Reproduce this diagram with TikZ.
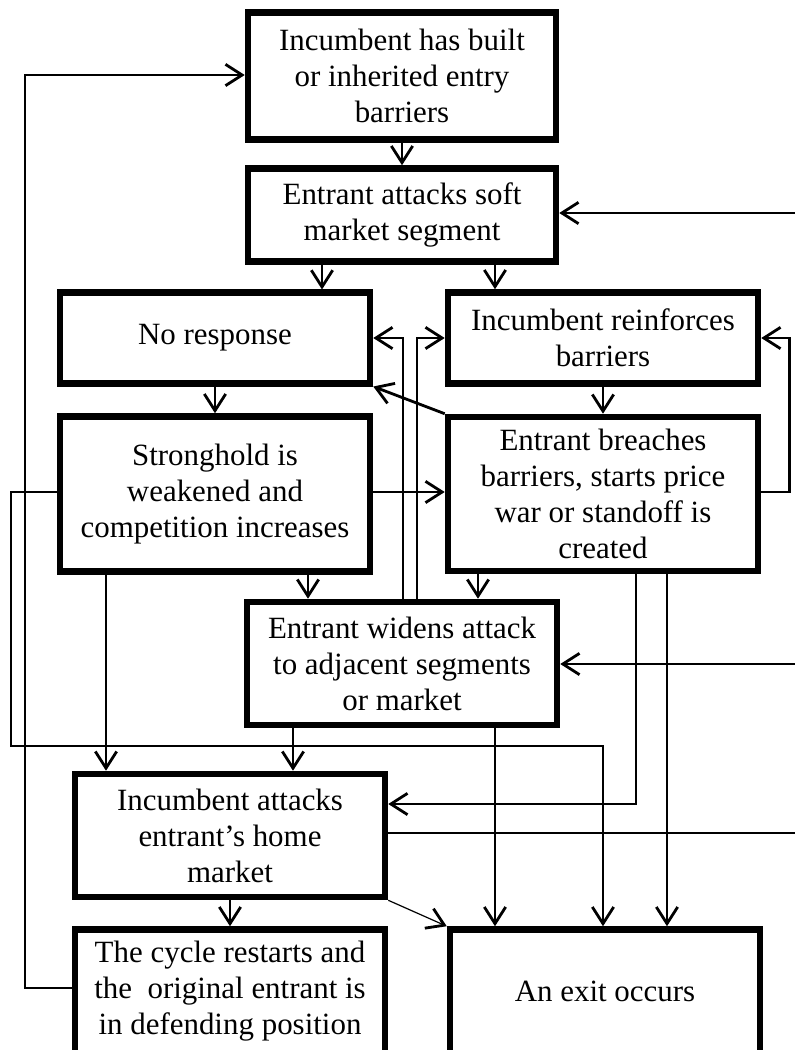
\documentclass[tikz,border=0pt]{standalone}
\usepackage{fontspec}
\setmainfont{Liberation Serif}
\usetikzlibrary{arrows.meta}
\tikzset{
  box/.style={draw, line width=4.9pt, rectangle, align=center, inner sep=0pt,
              font=\fontsize{23.2}{27}\selectfont},
  wh/.style 2 args={minimum width=#1*0.75pt, minimum height=#2*0.75pt},
  tip/.style={-{Straight Barb[length=12.5pt,width=16pt]}},
  arr/.style={line width=2.1pt, tip},
  thinarr/.style={line width=0.9pt, -{Straight Barb[length=12.5pt,width=16pt,line width=2.1pt]}},
  link/.style={line width=2.1pt}
}
\begin{document}
\begin{tikzpicture}[x=0.75pt,y=-0.75pt]
\useasboundingbox (0,0) rectangle (795,1050);
\fill[white] (0,0) rectangle (795,1050);
\clip (0,0) rectangle (795,1050);

% boxes
\node[box, wh={308}{126.5}] (n1) at (402,76) {Incumbent has built\\or inherited entry\\barriers};
\node[box, wh={308}{93}] (n2) at (402,215) {Entrant attacks soft\\market segment};
\node[box, wh={310}{90.5}] (n3) at (215,338) {No response};
\node[box, wh={310}{91}] (n4) at (603,338) {Incumbent reinforces\\barriers};
\node[box, wh={310}{155}] (n5) at (215,494) {Stronghold is\\weakened and\\competition increases};
\node[box, wh={310}{154}] (n6) at (603,494) {Entrant breaches\\barriers, starts price\\war or standoff is\\created};
\node[box, wh={310}{123}] (n7) at (402,663.5) {Entrant widens attack\\to adjacent segments\\or market};
\node[box, wh={310}{123}] (n8) at (230,835.5) {Incumbent attacks\\entrant’s home\\market};
\node[box, wh={310}{124}] (n9) at (230,991.5) {The cycle restarts and\\the\ \ original entrant is\\in defending position};
\node[box, wh={310}{124}] (n10) at (605,991.5) {An exit occurs};

% free ends at the right margin
\coordinate (r1) at (800,213);
\coordinate (r2) at (800,664);
\coordinate (r3) at (800,833);

% connectors
\draw[arr] (n1) -- (n2);
\draw[arr] (n2.south -| 322,0) -- (n3.north -| 322,0);
\draw[arr] (n2.south -| 495,0) -- (n4.north -| 495,0);
\draw[arr] (n3) -- (n5);
\draw[arr] (n4) -- (n6);
\draw[arr] (n5.east |- 0,492) -- (n6.west |- 0,492);
\draw[arr] (n6.east |- 0,492) -- ++(28,0) |- (n4.east);
\draw[arr] (n7.north -| 403,0) |- (n3.east);
\draw[arr] (n7.north -| 417,0) |- (n4.west);
\draw[arr] (n6.north west) -- (n3.south east);
\draw[arr] (n5.south -| 308,0) -- (n7.north -| 308,0);
\draw[arr] (n6.south -| 478,0) -- (n7.north -| 478,0);
\draw[arr] (n5.south -| 106,0) -- (n8.north -| 106,0);
\draw[arr] (n7.south -| 293,0) -- (n8.north -| 293,0);
\draw[arr] (n5.west |- 0,492) -| (11,746) -| (n10.north -| 603,0);
\draw[arr] (n7.south -| 495,0) -- (n10.north -| 495,0);
\draw[arr] (n6.south -| 636,0) |- (n8.east |- 0,804);
\draw[arr] (n6.south -| 667,0) -- (n10.north -| 667,0);
\draw[arr] (n8) -- (n9);
\draw[thinarr] (n8.south east) -- (n10.north west);
\draw[arr] (n9.west |- 0,988) -| (25,75) -- (n1.west |- 0,75);
\draw[arr] (r1) -- (n2.east |- r1);
\draw[arr] (r2) -- (n7.east |- r2);
\draw[link] (n8.east |- r3) -- (r3);
\end{tikzpicture}
\end{document}
